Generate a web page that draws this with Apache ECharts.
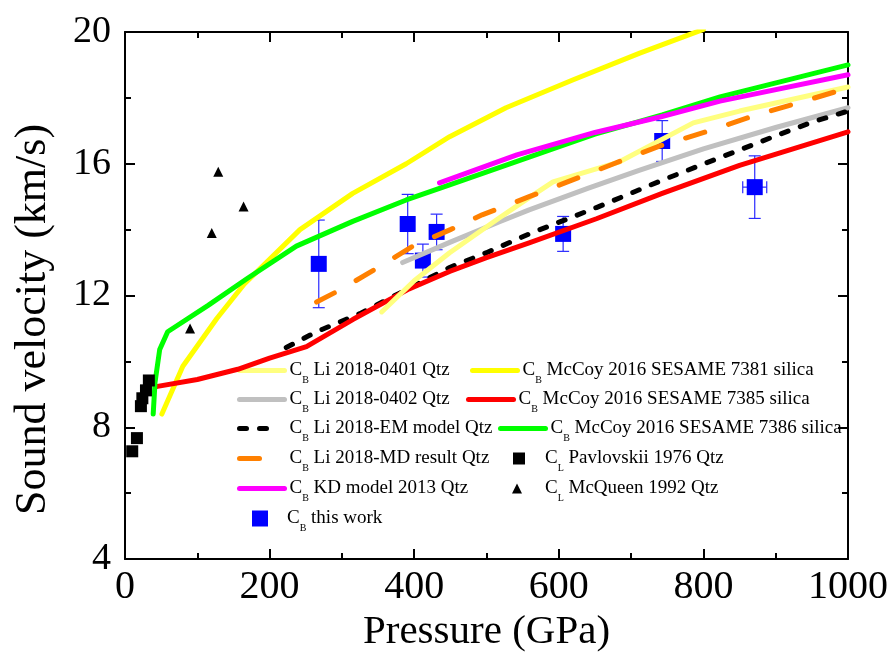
<!DOCTYPE html>
<html>
<head>
<meta charset="utf-8">
<script src="https://cdn.jsdelivr.net/npm/echarts@6/dist/echarts.min.js"></script>
<style>html,body{margin:0;padding:0;background:#fff}#chart{width:893px;height:652px}</style>
</head>
<body>
<div id="chart"></div>
<script>
// ---------- DATA ----------
const xTicks = [0, 200, 400, 600, 800, 1000];
const yTicks = [4, 8, 12, 16, 20];

const li0401 = [[355,11.5],[400,12.45],[449,13.3],[518,14.36],[559,14.97],[592,15.45],[684,16.06],[786,17.24],[850,17.6],[1000,18.33]];
const li0402 = [[384,13.0],[450,13.62],[518,14.24],[559,14.6],[640,15.25],[711,15.8],[800,16.45],[900,17.1],[1000,17.7]];
const liEM   = [[223,10.42],[265,10.9],[325,11.45],[400,12.3],[449,12.85],[500,13.3],[559,13.87],[652,14.67],[743,15.5],[892,16.78],[951,17.27],[1000,17.6]];
const liMD   = [[265,11.8],[300,12.2],[350,12.85],[398,13.5],[450,14.0],[494,14.45],[559,15.0],[612,15.45],[676,16.0],[741,16.55],[808,17.0],[873,17.48],[939,17.9],[1000,18.3]];
const kd2013 = [[435,15.42],[542,16.27],[650,16.95],[740,17.42],[823,17.9],[1000,18.7]];
const mc7381 = [[51,8.4],[80,9.85],[127,11.3],[165,12.35],[242,14.0],[315,15.1],[389,16.0],[449,16.82],[527,17.7],[620,18.55],[712,19.36],[800,20.08]];
const mc7385 = [[45,9.24],[100,9.45],[156,9.76],[200,10.1],[251,10.45],[315,11.27],[393,12.2],[449,12.73],[500,13.15],[559,13.6],[652,14.33],[743,15.1],[850,15.95],[1000,16.97]];
const mc7386 = [[39,8.4],[41.5,9.36],[48,10.36],[59,10.9],[115,11.7],[168,12.5],[237,13.5],[315,14.25],[389,14.9],[449,15.36],[559,16.2],[650,16.9],[743,17.48],[823,18.03],[1000,19.0]];
const pavlovskii = [[10,7.27],[16.5,7.67],[22,8.64],[24,8.88],[29,9.12],[33,9.42]];
const mcqueen = [[90,11.0],[120,13.9],[129,15.76],[164,14.7]];

const workP    = [268, 391, 412, 431, 606, 743, 871];
const workV    = [12.96, 14.17, 13.06, 13.93, 13.87, 16.69, 15.29];
const workVErr = [1.33, 0.9, 0.5, 0.54, 0.53, 0.62, 0.95];
const workPErr = [0, 0, 0, 0, 0, 0, 16.6];

// ---------- CHART ----------
const FONT = '"Liberation Serif","Times New Roman",serif';
const workRows = workP.map((p, i) => [p, workV[i], workVErr[i], workPErr[i]]);
const workPts = workP.map((p, i) => [p, workV[i]]);

function lineSeries(name, data, color, dash, z) {
  return {
    type: 'line', name, data, symbol: 'none', smooth: false, z,
    lineStyle: { color, width: 5, type: dash || 'solid', cap: 'round', join: 'round' },
    itemStyle: { color }, emphasis: { disabled: true }
  };
}

const series = [
  {
    type: 'custom', name: 'errbars', data: workRows, z: 1, encode: { x: 0, y: 1 },
    renderItem: function (params, api) {
      const p = api.value(0), v = api.value(1), e = api.value(2), pe = api.value(3);
      const t = api.coord([p, v + e]), b = api.coord([p, v - e]);
      const cap = 6;
      const style = { stroke: '#2a2aff', lineWidth: 1.2, fill: null };
      const ch = [
        { type: 'line', shape: { x1: t[0], y1: t[1], x2: b[0], y2: b[1] }, style },
        { type: 'line', shape: { x1: t[0] - cap, y1: t[1], x2: t[0] + cap, y2: t[1] }, style },
        { type: 'line', shape: { x1: b[0] - cap, y1: b[1], x2: b[0] + cap, y2: b[1] }, style }
      ];
      if (pe > 0) {
        const l = api.coord([p - pe, v]), r = api.coord([p + pe, v]);
        ch.push({ type: 'line', shape: { x1: l[0], y1: l[1], x2: r[0], y2: r[1] }, style });
        ch.push({ type: 'line', shape: { x1: l[0], y1: l[1] - cap, x2: l[0], y2: l[1] + cap }, style });
        ch.push({ type: 'line', shape: { x1: r[0], y1: r[1] - cap, x2: r[0], y2: r[1] + cap }, style });
      }
      return { type: 'group', children: ch };
    }
  },
  { type: 'scatter', name: 'this work', data: workPts, symbol: 'rect', symbolSize: 16, z: 2, itemStyle: { color: '#0000ff', opacity: 1 }, emphasis: { disabled: true } },
  lineSeries('Li 2018-0402 Qtz', li0402, '#c0c0c0', null, 3),
  lineSeries('Li 2018-EM model Qtz', liEM, '#000000', [7, 13], 4),
  lineSeries('McCoy 2016 SESAME 7381 silica', mc7381, '#ffff00', null, 5),
  lineSeries('McCoy 2016 SESAME 7385 silica', mc7385, '#ff0000', null, 6),
  lineSeries('Li 2018-0401 Qtz', li0401, '#ffff80', null, 7),
  lineSeries('Li 2018-MD result Qtz', liMD, '#ff8000', [20, 25], 8),
  lineSeries('McCoy 2016 SESAME 7386 silica', mc7386, '#00ff00', null, 9),
  lineSeries('KD model 2013 Qtz', kd2013, '#ff00ff', null, 10),
  { type: 'scatter', name: 'Pavlovskii 1976 Qtz', data: pavlovskii, symbol: 'rect', symbolSize: 12, z: 11, itemStyle: { color: '#000', opacity: 1 }, emphasis: { disabled: true } },
  { type: 'scatter', name: 'McQueen 1992 Qtz', data: mcqueen, symbol: 'triangle', symbolSize: 10, z: 12, itemStyle: { color: '#000', opacity: 1 }, emphasis: { disabled: true } }
];

// legend layout: [name, subscript, left, rowCenterY, itemWidth, itemHeight, textPad, isLine, color]
const legendLayout = [
  ['Li 2018-0401 Qtz', 'B', 237, 369, 45, 14, 0, true],
  ['Li 2018-0402 Qtz', 'B', 237, 398, 45, 14, 0, true],
  ['Li 2018-EM model Qtz', 'B', 237, 427, 33, 14, 12, true],
  ['Li 2018-MD result Qtz', 'B', 237, 457, 45, 14, 0, true],
  ['KD model 2013 Qtz', 'B', 237, 487, 45, 14, 0, true],
  ['this work', 'B', 252, 517, 16, 16, 14, false, '#0000ff'],
  ['McCoy 2016 SESAME 7381 silica', 'B', 470, 369, 45, 14, 0, true],
  ['McCoy 2016 SESAME 7385 silica', 'B', 466, 398, 45, 14, 0, true],
  ['McCoy 2016 SESAME 7386 silica', 'B', 498, 427, 45, 14, 0, true],
  ['Pavlovskii 1976 Qtz', 'L', 513, 457, 12, 12, 15, false, '#000'],
  ['McQueen 1992 Qtz', 'L', 512, 487, 10, 10, 18, false, '#000']
];
const TXT_H = 30;
const ROW_SHIFT = 7;
const LFS = 19;
const legends = legendLayout.map(([name, sub, left, cy, w, h, pad, isLine, color]) => ({
  data: [name], left, top: cy - Math.max(TXT_H, h) / 2 + ROW_SHIFT, itemWidth: w, itemHeight: h,
  padding: 0, itemGap: 0, selectedMode: false, orient: 'horizontal', symbolKeepAspect: true,
  itemStyle: isLine
    ? { color: 'rgba(0,0,0,0)', borderColor: 'rgba(0,0,0,0)', borderWidth: 0 }
    : { color, opacity: 1, borderWidth: 0 },
  lineStyle: { width: 5, cap: 'round', opacity: 1 },
  formatter: () => '{c|C}{s|' + sub + '}{m| ' + name + '}',
  textStyle: {
    fontFamily: FONT, fontSize: LFS, color: '#000',
    rich: {
      c: { fontFamily: FONT, fontSize: LFS, color: '#000', padding: [5, 0, 5, pad], verticalAlign: 'middle' },
      m: { fontFamily: FONT, fontSize: LFS, color: '#000', padding: [5, 0, 5, 0], verticalAlign: 'middle' },
      s: { fontFamily: FONT, fontSize: 10, color: '#000', verticalAlign: 'bottom' }
    }
  }
}));

const axisLine = { show: true, onZero: false, lineStyle: { color: '#000', width: 2 } };
const axisTick = { show: true, inside: true, length: 10, lineStyle: { color: '#000', width: 2 } };
const minorTick = { show: true, splitNumber: 2, length: 6, lineStyle: { color: '#000', width: 2 } };

const xMin = xTicks[0], xMax = xTicks[xTicks.length - 1], xInt = xTicks[1] - xTicks[0];
const yMin = yTicks[0], yMax = yTicks[yTicks.length - 1], yInt = yTicks[1] - yTicks[0];

const option = {
  animation: false,
  backgroundColor: '#fff',
  grid: { left: 125, right: 45, top: 32, bottom: 93, containLabel: false, outerBoundsMode: 'none' },
  legend: legends,
  xAxis: [
    {
      type: 'value', position: 'bottom', min: xMin, max: xMax, interval: xInt,
      name: 'Pressure (GPa)', nameLocation: 'middle', nameGap: 52,
      nameTextStyle: { fontFamily: FONT, fontSize: 41, color: '#000' },
      axisLine, axisTick, minorTick, splitLine: { show: false }, minorSplitLine: { show: false },
      axisLabel: { fontFamily: FONT, fontSize: 40, color: '#000', margin: 8, formatter: v => String(v) }
    },
    {
      type: 'value', position: 'top', min: xMin, max: xMax, interval: xInt,
      axisLine, axisTick, minorTick, splitLine: { show: false }, axisLabel: { show: false }
    }
  ],
  yAxis: [
    {
      type: 'value', position: 'left', min: yMin, max: yMax, interval: yInt,
      name: 'Sound velocity (km/s)', nameLocation: 'middle', nameGap: 70, nameRotate: 90,
      nameTextStyle: { fontFamily: FONT, fontSize: 44, color: '#000', padding: [0, 48, 0, 0] },
      axisLine, axisTick, minorTick, splitLine: { show: false }, minorSplitLine: { show: false },
      axisLabel: { fontFamily: FONT, fontSize: 38, color: '#000', margin: 14, formatter: v => String(v) }
    },
    {
      type: 'value', position: 'right', min: yMin, max: yMax, interval: yInt,
      axisLine, axisTick, minorTick, splitLine: { show: false }, axisLabel: { show: false }
    }
  ],
  series
};

const chart = echarts.init(document.getElementById('chart'), null, { renderer: 'canvas' });
chart.setOption(option);
</script>
</body>
</html>
